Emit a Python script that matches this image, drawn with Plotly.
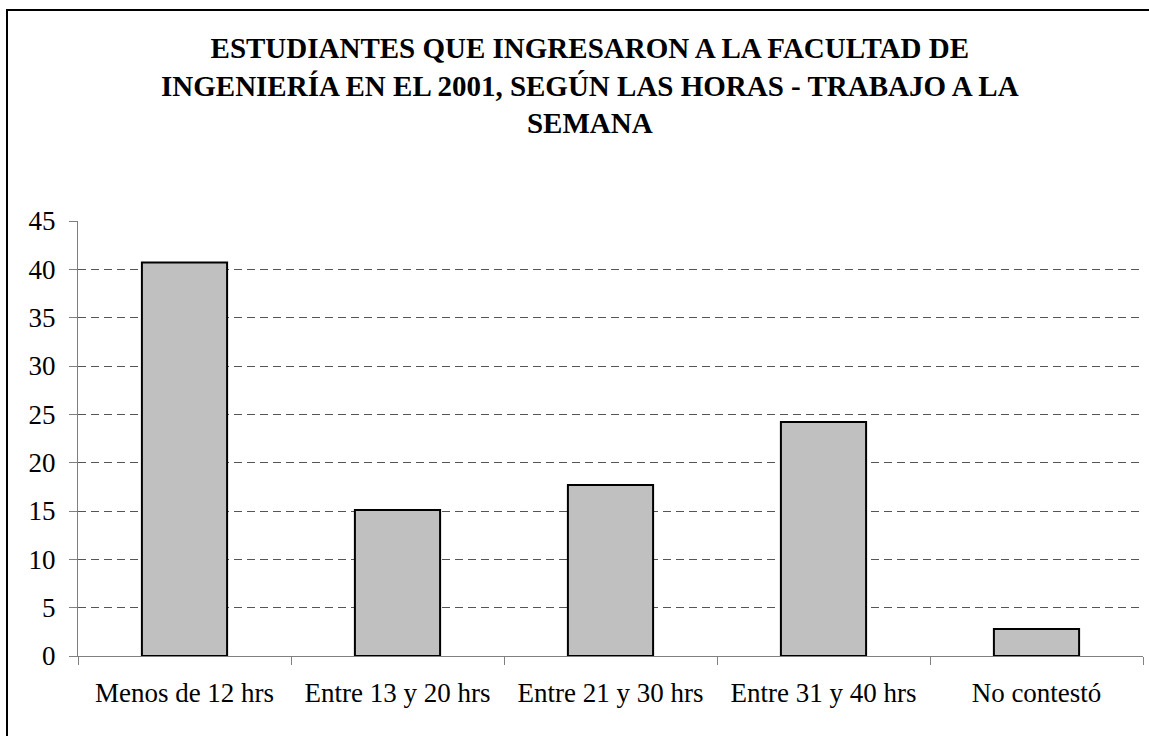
import plotly.graph_objects as go

categories = ["Menos de 12 hrs", "Entre 13 y 20 hrs", "Entre 21 y 30 hrs", "Entre 31 y 40 hrs", "No contestó"]
values = [40.7, 15.1, 17.7, 24.2, 2.8]
y_ticks = [0, 5, 10, 15, 20, 25, 30, 35, 40, 45]
grid_ticks = [5, 10, 15, 20, 25, 30, 35, 40]
title_lines = ["ESTUDIANTES QUE INGRESARON A LA FACULTAD DE",
               "INGENIERÍA EN EL 2001, SEGÚN LAS HORAS - TRABAJO A LA",
               "SEMANA"]

W, H = 1149, 736
L, R, T, B = 78, 6, 221, 80
pw, ph = W - L - R, H - T - B

fig = go.Figure()
fig.add_trace(go.Bar(
    x=categories, y=values,
    marker=dict(color="#C0C0C0", line=dict(color="black", width=2)),
    width=0.4, hoverinfo="x+y",
))
fig.add_trace(go.Scatter(x=categories, y=values, yaxis="y2", mode="markers",
                         marker=dict(opacity=0), hoverinfo="skip", showlegend=False))

font = "Liberation Serif"
fig.add_annotation(
    xref="paper", yref="paper", x=(590 - L) / pw, y=(H - B - 30) / ph,
    xanchor="center", yanchor="top", showarrow=False, align="center",
    text="<br>".join(title_lines),
    font=dict(family=font, size=29, color="black", weight="bold"),
)
fig.update_layout(
    width=W, height=H,
    margin=dict(l=L, r=R, t=T, b=B),
    paper_bgcolor="white", plot_bgcolor="white",
    showlegend=False,
    font=dict(family=font, color="black", size=27),
    xaxis=dict(type="category", tickson="boundaries", ticks="outside", ticklen=8,
               tickcolor="#808080", showline=True, linecolor="#808080", linewidth=1,
               showgrid=False, tickfont=dict(size=27, family=font), ticklabelstandoff=13),
    yaxis=dict(range=[0, 45], tickvals=y_ticks, ticks="outside", ticklen=8,
               tickcolor="#808080", showline=True, linecolor="#808080", linewidth=1,
               showgrid=False, zeroline=False, tickfont=dict(size=27, family=font),
               ticklabelstandoff=8),
    yaxis2=dict(range=[0, 45], overlaying="y", tickvals=grid_ticks, showticklabels=False,
                showgrid=True, gridcolor="#555555", griddash="8px,5px", gridwidth=1,
                zeroline=False, showline=False, layer="below traces"),
    bargap=0.6,
    shapes=[dict(type="rect", xref="paper", yref="paper",
                 x0=(7 - L) / pw, x1=(1200 - L) / pw,
                 y0=(H - B - 800) / ph, y1=(H - B - 10) / ph,
                 line=dict(color="black", width=2), fillcolor="rgba(0,0,0,0)", layer="below")],
)
fig.write_html("out.html", config={"displayModeBar": False},
               post_script="document.body.style.margin='0';")
